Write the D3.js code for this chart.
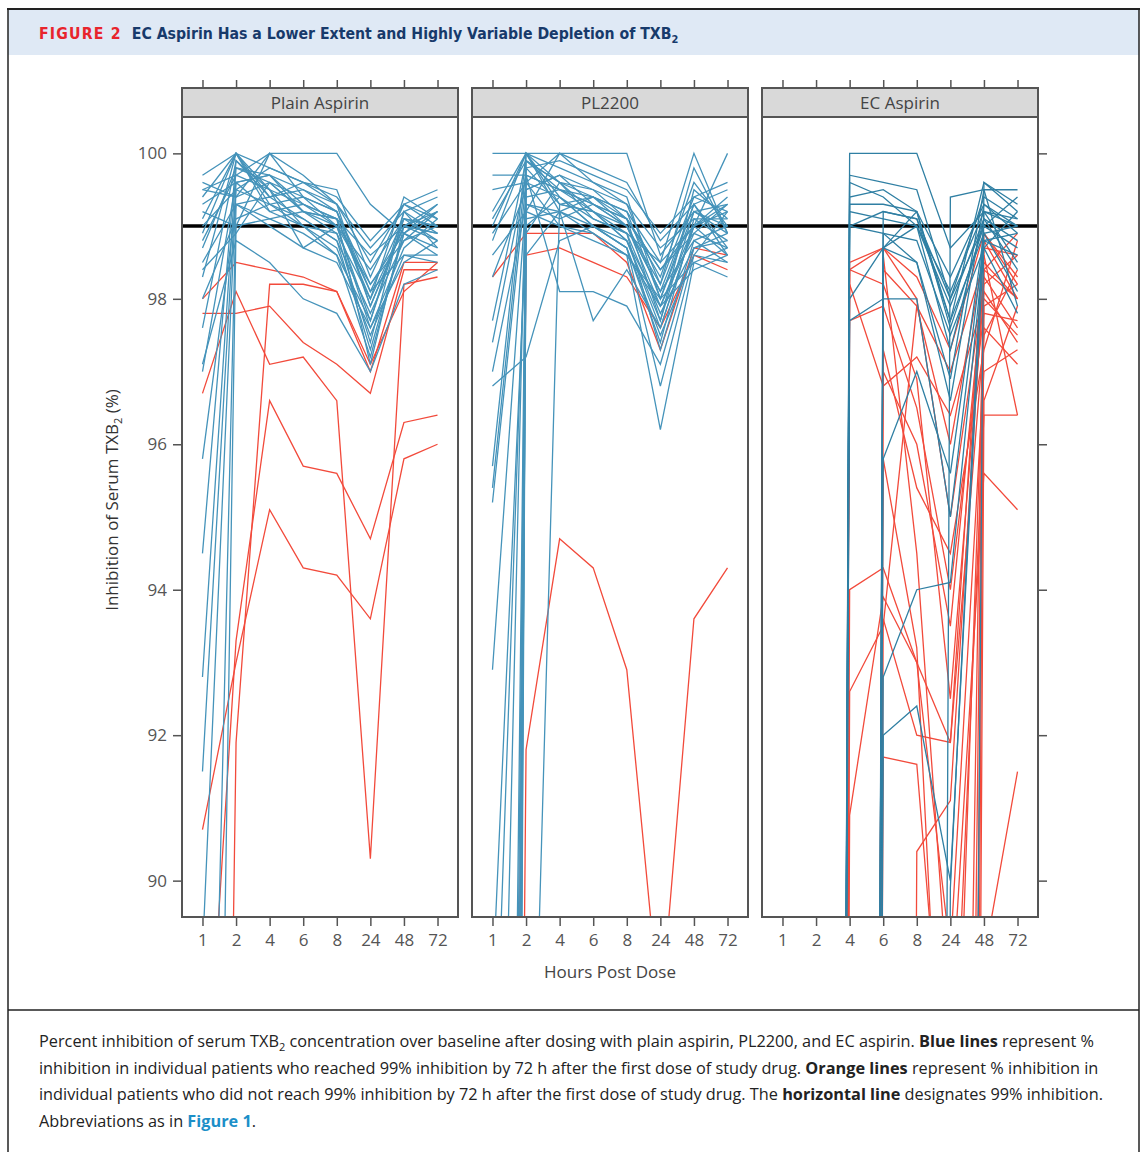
<!DOCTYPE html>
<html>
<head>
<meta charset="utf-8">
<script src="https://cdn.jsdelivr.net/npm/d3@7"></script>
<style>
  body { margin: 0; background: #fff; }
  svg text { font-family: "Open Sans", "Noto Sans", sans-serif; }
</style>
</head>
<body>
<div id="chart-area"></div>
<script>
// hours after dose (categorical x axis)
var hours = ["1", "2", "4", "6", "8", "24", "48", "72"];
var panels = ["Plain Aspirin", "PL2200", "EC Aspirin"];
var yTicks = [90, 92, 94, 96, 98, 100];
var threshold = 99;

// % inhibition per patient, values at hours 1,2,4,6,8,24,48,72
var plainBlue = [
  [99.7, 100, 99.8, 99.6, 99.5, 98.3, 99.3, 99.5],
  [99.5, 99.7, 100, 100, 100, 99.3, 98.9, 99.2],
  [99.5, 99.4, 99.6, 99.4, 99.0, 97.7, 99.1, 99.0],
  [99.4, 100, 99.5, 99.3, 99.1, 98.0, 99.4, 99.1],
  [99.3, 99.6, 99.7, 99.5, 99.3, 97.9, 99.0, 98.8],
  [99.2, 99.0, 100, 99.4, 99.2, 98.2, 98.9, 99.3],
  [99.6, 99.4, 100, 99.7, 99.3, 98.7, 99.2, 99.4],
  [99.0, 99.5, 99.3, 99.0, 98.9, 97.4, 99.2, 98.9],
  [98.9, 100, 99.4, 99.6, 99.3, 98.5, 99.3, 99.0],
  [98.7, 99.8, 99.6, 99.2, 99.0, 97.6, 98.7, 99.1],
  [98.5, 99.3, 99.1, 98.9, 98.6, 97.2, 98.9, 98.7],
  [98.3, 100, 99.2, 99.3, 99.1, 98.6, 99.0, 98.9],
  [98.0, 99.1, 99.3, 99.1, 98.8, 97.8, 98.8, 99.2],
  [97.6, 99.9, 99.5, 99.0, 98.7, 97.5, 98.6, 98.5],
  [97.1, 98.8, 98.5, 98.0, 97.8, 97.0, 98.2, 98.4],
  [97.0, 99.6, 99.7, 99.2, 99.1, 98.1, 98.6, 98.6],
  [95.8, 99.3, 99.0, 98.7, 99.0, 98.4, 99.1, 98.8],
  [94.5, 99.9, 99.4, 99.5, 99.2, 97.9, 99.0, 99.3],
  [92.8, 99.8, 99.7, 99.3, 99.0, 98.2, 98.8, 99.0],
  [91.5, 99.6, 99.2, 99.0, 98.6, 97.7, 99.2, 98.7],
  [89.0, 99.5, 99.8, 99.6, 99.4, 98.8, 99.3, 99.1],
  [80.0, 99.3, 99.4, 99.1, 98.8, 97.3, 98.9, 98.6],
  [70.0, 99.0, 99.1, 99.2, 98.9, 98.0, 99.0, 98.9],
  [98.8, 99.7, 99.5, 98.7, 98.5, 97.6, 98.5, 98.8],
  [99.1, 100, 99.3, 99.4, 99.2, 98.1, 99.1, 99.0],
  [98.4, 98.9, 99.6, 99.2, 99.1, 97.1, 99.0, 99.2]
];
var plainRed = [
  [98.0, 98.5, 98.4, 98.3, 98.1, 97.0, 98.5, 98.5],
  [97.8, 97.8, 97.9, 97.4, 97.1, 96.7, 98.4, 98.4],
  [60.0, 91.9, 98.2, 98.2, 98.1, 97.1, 98.1, 98.5],
  [96.7, 98.1, 97.1, 97.2, 96.6, 90.3, 98.2, 98.3],
  [86.0, 93.3, 96.6, 95.7, 95.6, 94.7, 96.3, 96.4],
  [90.7, 93.0, 95.1, 94.3, 94.2, 93.6, 95.8, 96.0]
];
var pl2200Blue = [
  [100, 100, 100, 100, 100, 98.6, 99.2, 99.0],
  [99.7, 99.7, 99.5, 99.4, 99.2, 98.5, 100, 98.9],
  [99.2, 100, 99.8, 99.6, 99.3, 98.2, 99.4, 99.6],
  [99.0, 100, 99.3, 99.4, 99.0, 97.9, 99.0, 100],
  [98.9, 99.6, 99.4, 99.0, 98.8, 97.7, 99.5, 99.1],
  [98.6, 99.2, 100, 99.6, 99.4, 98.0, 99.3, 98.7],
  [98.3, 99.5, 99.7, 99.3, 99.1, 98.4, 98.9, 99.3],
  [97.7, 99.9, 99.6, 99.1, 98.9, 97.3, 98.8, 98.5],
  [97.4, 99.7, 98.1, 98.1, 97.9, 97.1, 98.7, 98.9],
  [97.0, 99.3, 99.2, 97.7, 98.4, 97.6, 99.0, 98.6],
  [96.8, 97.2, 98.8, 99.0, 98.7, 96.8, 98.6, 99.2],
  [95.7, 100, 99.6, 99.5, 99.1, 98.3, 99.6, 99.0],
  [95.4, 99.8, 99.3, 99.2, 99.0, 98.1, 99.3, 98.6],
  [95.2, 99.6, 99.0, 98.8, 98.6, 96.2, 98.5, 98.3],
  [92.9, 99.4, 99.5, 99.3, 99.1, 98.4, 99.0, 99.4],
  [40.0, 100, 99.4, 99.1, 98.9, 97.8, 98.7, 98.8],
  [55.0, 99.5, 99.7, 99.5, 99.3, 98.7, 99.1, 99.1],
  [30.0, 99.1, 99.2, 99.0, 98.7, 97.5, 98.6, 98.5],
  [88.5, 98.9, 99.6, 99.4, 99.2, 98.0, 99.2, 99.3],
  [50.0, 83.0, 99.3, 99.2, 98.8, 97.9, 98.9, 98.7],
  [45.0, 99.8, 99.9, 99.7, 99.5, 98.9, 99.4, 99.2],
  [86.0, 99.3, 99.1, 99.3, 99.0, 98.2, 99.8, 98.9],
  [99.1, 99.9, 99.5, 99.2, 98.8, 97.6, 99.0, 99.3],
  [98.8, 100, 99.2, 98.9, 98.6, 97.9, 98.4, 98.6],
  [99.5, 99.6, 100, 99.8, 99.6, 98.8, 99.3, 99.5],
  [20.0, 99.0, 99.4, 99.0, 98.7, 97.4, 99.1, 98.8],
  [60.0, 99.7, 99.5, 99.3, 99.0, 98.1, 98.8, 99.0],
  [35.0, 98.6, 99.2, 99.4, 99.1, 97.7, 99.2, 98.9],
  [80.0, 99.9, 99.6, 99.2, 98.9, 98.5, 99.0, 99.2],
  [25.0, 99.2, 99.0, 98.9, 98.6, 98.0, 98.5, 98.7]
];
var pl2200Red = [
  [98.3, 98.9, 98.9, 98.9, 98.5, 97.3, 98.7, 98.6],
  [50.0, 98.6, 98.7, 98.5, 98.3, 97.6, 98.6, 98.4],
  [40.0, 91.8, 94.7, 94.3, 92.9, 88.1, 93.6, 94.3]
];
var ecBlue = [
  [0, 0, 100, 100, 100, 98.7, 99.2, 99.0],
  [0, 0, 99.7, 99.6, 99.5, 98.0, 99.4, 99.1],
  [0, 0, 99.6, 99.4, 99.0, 97.9, 99.1, 98.8],
  [0, 0, 99.4, 99.5, 99.2, 97.7, 99.6, 99.2],
  [0, 0, 99.3, 99.3, 99.2, 97.6, 99.0, 98.7],
  [0, 0, 99.2, 99.1, 99.0, 98.1, 99.2, 98.5],
  [0, 0, 99.0, 99.2, 99.1, 97.7, 98.9, 98.1],
  [0, 0, 98.0, 98.7, 98.5, 96.6, 99.3, 99.0],
  [0, 0, 97.7, 98.0, 98.0, 95.0, 98.8, 98.9],
  [0, 0, 99.0, 98.9, 98.5, 96.9, 99.5, 97.9],
  [0, 0, 0, 95.8, 97.0, 95.6, 98.9, 99.0],
  [0, 0, 0, 92.0, 92.4, 90.0, 98.8, 98.6],
  [0, 0, 0, 92.8, 94.0, 94.1, 98.7, 99.2],
  [0, 0, 0, 0, 0, 99.4, 99.5, 99.5],
  [0, 0, 0, 98.7, 99.2, 98.3, 99.3, 98.9],
  [0, 0, 0, 99.2, 99.1, 98.0, 99.0, 99.4],
  [0, 0, 0, 98.7, 99.0, 97.3, 99.1, 98.4],
  [0, 0, 0, 0, 0, 89.9, 99.2, 99.1],
  [0, 0, 0, 98.9, 98.8, 97.5, 98.7, 97.8],
  [0, 0, 0, 0, 0, 40.0, 99.6, 99.3]
];
var ecRed = [
  [0, 0, 98.5, 98.7, 98.3, 97.3, 98.9, 98.3],
  [0, 0, 98.4, 98.7, 98.0, 95.0, 98.2, 98.6],
  [0, 0, 98.2, 96.8, 97.2, 96.4, 98.0, 97.5],
  [0, 0, 97.7, 97.9, 96.5, 94.0, 97.8, 97.7],
  [0, 0, 94.0, 94.3, 93.0, 91.9, 97.5, 98.4],
  [0, 0, 92.6, 93.5, 97.9, 97.0, 98.5, 98.0],
  [0, 0, 90.9, 93.9, 93.0, 89.0, 97.0, 97.3],
  [0, 0, 0, 93.6, 92.0, 91.9, 98.8, 98.0],
  [0, 0, 0, 98.6, 94.5, 88.0, 95.6, 95.1],
  [0, 0, 0, 98.4, 97.9, 96.0, 98.6, 96.4],
  [0, 0, 0, 91.7, 91.6, 86.0, 96.4, 96.4],
  [0, 0, 0, 0, 90.4, 91.1, 98.4, 98.0],
  [0, 0, 0, 0, 0, 40.0, 88.9, 91.5],
  [0, 0, 0, 0, 0, 30.0, 98.4, 98.9],
  [0, 0, 0, 0, 0, 50.0, 97.9, 98.2],
  [0, 0, 0, 0, 0, 20.0, 96.6, 97.9],
  [0, 0, 0, 0, 0, 60.0, 98.7, 98.6],
  [0, 0, 0, 97.0, 96.0, 93.5, 98.3, 97.6],
  [0, 0, 0, 97.3, 95.4, 94.5, 97.3, 98.8],
  [0, 0, 0, 95.8, 93.2, 84.0, 97.6, 97.1],
  [0, 0, 98.4, 98.2, 96.9, 92.5, 98.1, 97.4],
  [0, 0, 0, 0, 0, 70.0, 98.9, 98.2]
];

var panelData = [
  { blue: plainBlue, red: plainRed },
  { blue: pl2200Blue, red: pl2200Red },
  { blue: ecBlue, red: ecRed }
];

var W = 1142, H = 1152;
var blue = "#4593ba", red = "#f24a3b", frame = "#555";

var svg = d3.select("#chart-area").append("svg")
  .attr("width", W)
  .attr("height", H);

// outer frame + header band
svg.append("rect").attr("x", 8).attr("y", 10).attr("width", 1131).attr("height", 45)
  .attr("fill", "#dfe9f5");
svg.append("line").attr("x1", 7).attr("x2", 1140).attr("y1", 9).attr("y2", 9)
  .attr("stroke", "#222").attr("stroke-width", 2);
svg.append("line").attr("x1", 8).attr("x2", 8).attr("y1", 9).attr("y2", 1152)
  .attr("stroke", "#222").attr("stroke-width", 1.5);
svg.append("line").attr("x1", 1139).attr("x2", 1139).attr("y1", 9).attr("y2", 1152)
  .attr("stroke", "#222").attr("stroke-width", 1.5);
svg.append("line").attr("x1", 8).attr("x2", 1139).attr("y1", 1010).attr("y2", 1010)
  .attr("stroke", "#222").attr("stroke-width", 1.5);

var title = svg.append("text").attr("x", 39).attr("y", 39)
  .style("font-family", "'DejaVu Sans Condensed', 'DejaVu Sans', sans-serif")
  .style("font-weight", "bold").style("font-size", "15.7px");
title.append("tspan").attr("fill", "#e8242c").attr("letter-spacing", "1.2px").text("FIGURE 2");
title.append("tspan").attr("fill", "#173a6b").attr("dx", 10)
  .text("EC Aspirin Has a Lower Extent and Highly Variable Depletion of TXB");
title.append("tspan").attr("fill", "#173a6b").attr("dy", 4).style("font-size", "11px").text("2");

// scales
var y = d3.scaleLinear().domain([89.5, 100.5]).range([917, 117]);
var panelLeft = [182, 472, 762];
var panelW = 276, plotTop = 117, plotBottom = 917, stripTop = 88;

var line = d3.line()
  .x(function(d) { return d.x; })
  .y(function(d) { return y(d.v); });

panelData.forEach(function(pd, p) {
  var x0 = panelLeft[p];
  var x = d3.scalePoint().domain(hours).range([x0, x0 + panelW]).padding(0.61);
  var g = svg.append("g");

  g.append("clipPath").attr("id", "clip" + p)
    .append("rect").attr("x", x0).attr("y", plotTop).attr("width", panelW).attr("height", plotBottom - plotTop);

  var plot = g.append("g").attr("clip-path", "url(#clip" + p + ")");

  // 99% reference line
  plot.append("line")
    .attr("x1", x0).attr("x2", x0 + panelW)
    .attr("y1", y(threshold)).attr("y2", y(threshold))
    .attr("stroke", "#000").attr("stroke-width", 3.5);

  function toPts(row) {
    return row.map(function(v, i) { return { x: x(hours[i]), v: v }; });
  }

  plot.selectAll("path.red").data(pd.red).enter().append("path")
    .attr("class", "red")
    .attr("d", function(d) { return line(toPts(d)); })
    .attr("fill", "none").attr("stroke", red).attr("stroke-width", 1.3);

  plot.selectAll("path.blue").data(pd.blue).enter().append("path")
    .attr("class", "blue")
    .attr("d", function(d) { return line(toPts(d)); })
    .attr("fill", "none").attr("stroke", p == 2 ? "#2f7fa3" : blue).attr("stroke-width", 1.3);

  // panel frame
  g.append("rect").attr("x", x0).attr("y", plotTop).attr("width", panelW).attr("height", plotBottom - plotTop)
    .attr("fill", "none").attr("stroke", frame).attr("stroke-width", 2);

  // strip
  g.append("rect").attr("x", x0).attr("y", stripTop).attr("width", panelW).attr("height", plotTop - stripTop)
    .attr("fill", "#d9d9d9").attr("stroke", frame).attr("stroke-width", 2);
  g.append("text").attr("x", x0 + panelW / 2).attr("y", 109)
    .attr("text-anchor", "middle").attr("fill", "#444").style("font-size", "17px")
    .text(panels[p]);

  // bottom axis
  var xb = g.append("g").attr("transform", "translate(0," + (plotBottom + 1) + ")")
    .call(d3.axisBottom(x).tickSize(8).tickPadding(8));
  xb.select(".domain").remove();
  xb.selectAll("line").attr("stroke", frame).attr("stroke-width", 1.5);
  xb.selectAll("text").attr("fill", "#555").style("font-size", "17px").style("font-family", "'Open Sans', sans-serif");

  // top ticks (no labels)
  var xt = g.append("g").attr("transform", "translate(0," + (stripTop - 1) + ")")
    .call(d3.axisTop(x).tickSize(7).tickFormat(""));
  xt.select(".domain").remove();
  xt.selectAll("line").attr("stroke", frame).attr("stroke-width", 1.5);

  if (p == 0) {
    var yl = g.append("g").attr("transform", "translate(" + (x0 - 1) + ",0)")
      .call(d3.axisLeft(y).tickValues(yTicks).tickSize(8).tickPadding(6));
    yl.select(".domain").remove();
    yl.selectAll("line").attr("stroke", frame).attr("stroke-width", 1.5);
    yl.selectAll("text").attr("fill", "#555").style("font-size", "17px").style("font-family", "'Open Sans', sans-serif");
  }
  if (p == 2) {
    var yr = g.append("g").attr("transform", "translate(" + (x0 + panelW + 1) + ",0)")
      .call(d3.axisRight(y).tickValues(yTicks).tickSize(8).tickFormat(""));
    yr.select(".domain").remove();
    yr.selectAll("line").attr("stroke", frame).attr("stroke-width", 1.5);
  }
});

// axis titles
svg.append("text").attr("x", 610).attr("y", 978).attr("text-anchor", "middle")
  .attr("fill", "#444").style("font-size", "17px").text("Hours Post Dose");

var yt = svg.append("text").attr("transform", "translate(118,500) rotate(-90)")
  .attr("text-anchor", "middle").attr("fill", "#333").style("font-size", "17px");
yt.append("tspan").text("Inhibition of Serum TXB");
yt.append("tspan").attr("dy", 4).style("font-size", "11px").text("2");
yt.append("tspan").attr("dy", -4).text(" (%)");

// caption
var caption = [
  [["Percent inhibition of serum TXB", ""], ["2", "sub"], [" concentration over baseline after dosing with plain aspirin, PL2200, and EC aspirin. ", "up"], ["Blue lines", "b"], [" represent %", ""]],
  [["inhibition in individual patients who reached 99% inhibition by 72 h after the first dose of study drug. ", ""], ["Orange lines", "b"], [" represent % inhibition in", ""]],
  [["individual patients who did not reach 99% inhibition by 72 h after the first dose of study drug. The ", ""], ["horizontal line", "b"], [" designates 99% inhibition.", ""]],
  [["Abbreviations as in ", ""], ["Figure 1", "link"], [".", ""]]
];
caption.forEach(function(parts, i) {
  var t = svg.append("text").attr("x", 39).attr("y", 1047 + i * 26.5)
    .attr("fill", "#222").style("font-size", "16.3px");
  parts.forEach(function(pt) {
    var s = t.append("tspan").text(pt[0]);
    if (pt[1] == "b") s.style("font-weight", "bold");
    if (pt[1] == "link") s.style("font-weight", "bold").attr("fill", "#1c8fc8");
    if (pt[1] == "sub") s.attr("dy", 4).style("font-size", "11px");
    if (pt[1] == "up") s.attr("dy", -4);
  });
});
</script>
</body>
</html>
